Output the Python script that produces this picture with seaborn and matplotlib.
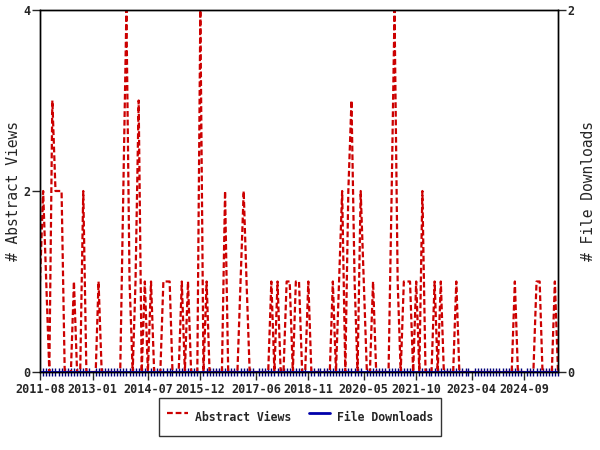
import matplotlib
matplotlib.use("Agg")
from matplotlib import pyplot as plt
import matplotlib.dates as mdates
import pandas as pd
import seaborn as sns

# monthly counts, Aug 2011 - Aug 2025
months = pd.date_range("2011-08-01", periods=169, freq="MS")
abstract_views = [
    1, 2, 1, 0, 3, 2, 2, 2, 0, 0, 0, 1, 0, 0, 2, 0, 0, 0, 0, 1,
    0, 0, 0, 0, 0, 0, 0, 2, 4, 1, 0, 1, 3, 0, 1, 0, 1, 0, 0, 0,
    1, 1, 1, 0, 0, 0, 1, 0, 1, 0, 0, 0, 4, 0, 1, 0, 0, 0, 0, 0,
    2, 0, 0, 0, 0, 1, 2, 1, 0, 0, 0, 0, 0, 0, 0, 1, 0, 1, 0, 0,
    1, 1, 0, 1, 1, 0, 0, 1, 0, 0, 0, 0, 0, 0, 0, 1, 0, 1, 2, 0,
    2, 3, 1, 0, 2, 1, 0, 0, 1, 0, 0, 0, 0, 0, 2, 4, 1, 0, 1, 1,
    1, 0, 1, 0, 2, 0, 0, 0, 1, 0, 1, 0, 0, 0, 0, 1, 0, 0, 0, 0,
    0, 0, 0, 0, 0, 0, 0, 0, 0, 0, 0, 0, 0, 0, 1, 0, 0, 0, 0, 0,
    0, 1, 1, 0, 0, 0, 0, 1, 0,
]
file_downloads = [0] * len(months)

tick_labels = ["2011-08", "2013-01", "2014-07", "2015-12", "2017-06",
               "2018-11", "2020-05", "2021-10", "2023-04", "2024-09"]
tick_dates = pd.to_datetime([t + "-01" for t in tick_labels])

df = pd.DataFrame({"month": months, "views": abstract_views,
                   "downloads": file_downloads})

sns.set_style("ticks")
plt.rcParams["font.family"] = ["DejaVu Sans Mono"]

fig = plt.figure(figsize=(6, 4.5), dpi=100)
ax = fig.add_axes([40 / 600, 78 / 450, 518 / 600, 362 / 450])

sns.lineplot(data=df, x="month", y="views", ax=ax, color="#cc0000",
             lw=1.6, estimator=None, label="Abstract Views", legend=False)
ax.lines[0].set_dashes([2.6, 1.3])

ax2 = ax.twinx()
sns.lineplot(data=df, x="month", y="downloads", ax=ax2, color="#0000aa",
             lw=2, estimator=None, label="File Downloads", legend=False)

ax.set_xlim(months[0], months[-1])
ax.set_ylim(0, 4)
ax.set_yticks([0, 2, 4])
ax2.set_ylim(0, 2)
ax2.set_yticks([0, 2])

ax.set_xticks(tick_dates)
ax.set_xticklabels(tick_labels)
ax.xaxis.set_minor_locator(mdates.MonthLocator())
ax.tick_params(axis="x", which="minor", direction="inout", length=6,
               width=1, color="#00007a")
ax.tick_params(axis="x", which="major", direction="out", length=6, width=1,
               labelsize=8.5, pad=2)
ax.tick_params(axis="y", direction="out", length=6, width=1, labelsize=8.5, pad=1)
ax2.tick_params(axis="y", direction="out", length=6, width=1, labelsize=8.5, pad=1)
for lab in ax.get_xticklabels() + ax.get_yticklabels() + ax2.get_yticklabels():
    lab.set_fontweight("bold")

for a in (ax, ax2):
    for s in a.spines.values():
        s.set_color("black")
        s.set_linewidth(1)

ax.set_xlabel("")
ax.set_ylabel("# Abstract Views", fontsize=10.5)
ax2.set_ylabel("# File Downloads", fontsize=10.5)
ax.yaxis.set_label_coords(-0.036, 0.5)
ax2.yaxis.set_label_coords(1.045, 0.5)

handles = [ax.lines[0], ax2.lines[0]]
leg = fig.legend(handles, ["Abstract Views", "File Downloads"],
                 loc="center", bbox_to_anchor=(0.5, 1 - 417 / 450), ncol=2,
                 frameon=True, fancybox=False, edgecolor="black",
                 prop={"weight": "bold", "size": 8.3}, handlelength=1.8,
                 handletextpad=0.6, columnspacing=1.6, borderpad=0.7,
                 handleheight=2.5)
leg.get_frame().set_linewidth(1)

fig.savefig("out.png", dpi=100)
